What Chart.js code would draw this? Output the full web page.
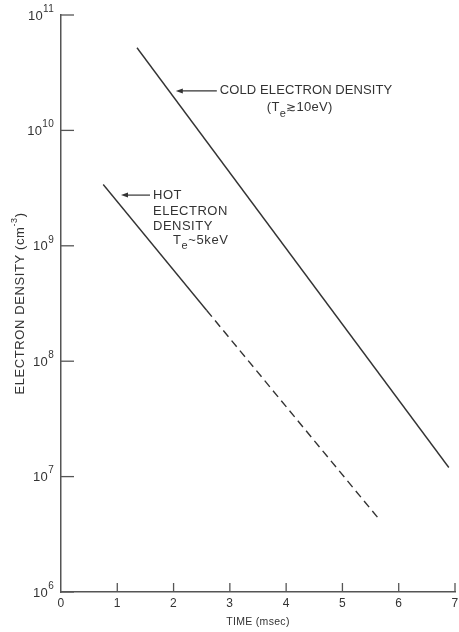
<!DOCTYPE html>
<html>
<head>
<meta charset="utf-8">
<script src="https://cdn.jsdelivr.net/npm/chart.js@4"></script>
<style>
  html, body { margin: 0; padding: 0; background: #fff; }
  #wrap { width: 459px; height: 632px; }
</style>
</head>
<body>
<div id="wrap"><canvas id="densityChart" width="459" height="632"></canvas></div>
<script>
// Electron density decay after turn-off (log scale)
const timeTicks = [0, 1, 2, 3, 4, 5, 6, 7];
const densityExps = [6, 7, 8, 9, 10, 11];

const coldTime = [1.35, 6.89];
const coldDensity = [5.2e10, 1.2e7];

const hotTime = [0.75, 2.59];
const hotDensity = [3.4e9, 2.75e8];
// extrapolated part of the hot curve (dashed)
const hotExtTime = [2.59, 5.63];
const hotExtDensity = [2.75e8, 4.4e6];

const INK = '#333';
const FONT = '"Liberation Sans", Arial, sans-serif';

function pts(xs, ys) {
  return xs.map((x, i) => ({ x: x, y: ys[i] }));
}

// draws a row of text pieces (size / vertical shift per piece)
function drawRuns(ctx, x, y, runs, align, spacing) {
  ctx.save();
  ctx.letterSpacing = (spacing === undefined ? 0.3 : spacing) + 'px';
  let total = 0;
  runs.forEach(r => {
    ctx.font = r.s + 'px ' + FONT;
    r.w = ctx.measureText(r.t).width;
    total += r.w;
  });
  let cx = x;
  if (align === 'right') cx = x - total;
  if (align === 'center') cx = x - total / 2;
  ctx.textAlign = 'left';
  ctx.textBaseline = 'middle';
  runs.forEach(r => {
    ctx.font = r.s + 'px ' + FONT;
    ctx.fillText(r.t, cx, y + (r.dy || 0));
    cx += r.w;
  });
  ctx.restore();
}

function arrow(ctx, x1, x2, y) {
  ctx.beginPath();
  ctx.moveTo(x2, y);
  ctx.lineTo(x1 + 5, y);
  ctx.stroke();
  ctx.beginPath();
  ctx.moveTo(x1, y);
  ctx.lineTo(x1 + 7, y - 2.5);
  ctx.lineTo(x1 + 7, y + 2.5);
  ctx.closePath();
  ctx.fill();
}

const axisDecor = {
  id: 'axisDecor',
  afterDraw(chart) {
    const ctx = chart.ctx;
    const xs = chart.scales.x, ys = chart.scales.y, ca = chart.chartArea;
    ctx.save();
    ctx.strokeStyle = '#555';
    ctx.fillStyle = INK;
    ctx.lineWidth = 1.3;

    // inward ticks + labels on the time axis
    timeTicks.forEach(t => {
      const px = xs.getPixelForValue(t);
      if (t > 0) {
        ctx.beginPath();
        ctx.moveTo(px, ca.bottom);
        ctx.lineTo(px, ca.bottom - 9);
        ctx.stroke();
      }
      drawRuns(ctx, px, ca.bottom + 12, [{ t: String(t), s: 12 }], 'center');
    });

    // decade ticks + 10^n labels on the density axis
    densityExps.forEach(e => {
      const py = ys.getPixelForValue(Math.pow(10, e));
      ctx.beginPath();
      ctx.moveTo(ca.left, py);
      ctx.lineTo(ca.left + 13, py);
      ctx.stroke();
      drawRuns(ctx, ca.left - 7, py, [
        { t: '10', s: 13, dy: 1 },
        { t: String(e), s: 10, dy: -6 }
      ], 'right');
    });

    // axis titles
    drawRuns(ctx, (ca.left + ca.right) / 2, ca.bottom + 30, [{ t: 'TIME (msec)', s: 10.5 }], 'center');
    ctx.save();
    ctx.translate(20, (ca.top + ca.bottom) / 2);
    ctx.rotate(-Math.PI / 2);
    drawRuns(ctx, 0, 0, [
      { t: 'ELECTRON DENSITY (cm', s: 13 },
      { t: '-3', s: 9, dy: -5 },
      { t: ')', s: 13 }
    ], 'center', 0.6);
    ctx.restore();

    // curve notes
    ctx.strokeStyle = INK;
    ctx.lineWidth = 1.2;
    const cy = ys.getPixelForValue(2.2e10);
    const cTip = xs.getPixelForValue(2.04);
    arrow(ctx, cTip, cTip + 41, cy);
    drawRuns(ctx, cTip + 44, cy, [{ t: 'COLD ELECTRON DENSITY', s: 13 }], 'left', 0.1);
    drawRuns(ctx, cTip + 91, cy + 17, [
      { t: '(T', s: 13 },
      { t: 'e', s: 11, dy: 6 },
      { t: '\u2273', s: 12 },
      { t: '10eV)', s: 13 }
    ], 'left');

    const hy = ys.getPixelForValue(2.75e9);
    const hTip = xs.getPixelForValue(1.066);
    arrow(ctx, hTip, hTip + 29, hy);
    drawRuns(ctx, hTip + 32, hy, [{ t: 'HOT', s: 13 }], 'left', 0.5);
    drawRuns(ctx, hTip + 32, hy + 16, [{ t: 'ELECTRON', s: 13 }], 'left', 0.5);
    drawRuns(ctx, hTip + 32, hy + 31, [{ t: 'DENSITY', s: 13 }], 'left', 0.5);
    drawRuns(ctx, hTip + 52, hy + 45, [
      { t: 'T', s: 13 },
      { t: 'e', s: 11, dy: 6 },
      { t: '~5keV', s: 13 }
    ], 'left', 0.6);
    ctx.restore();
  }
};

const lineStyle = {
  borderColor: INK,
  borderWidth: 1.4,
  pointRadius: 0,
  tension: 0,
  fill: false
};

const ctx = document.getElementById('densityChart').getContext('2d');
const densityChart = new Chart(ctx, {
  type: 'line',
  data: {
    datasets: [
      Object.assign({ label: 'Cold electron density', data: pts(coldTime, coldDensity) }, lineStyle),
      Object.assign({ label: 'Hot electron density', data: pts(hotTime, hotDensity) }, lineStyle),
      Object.assign({ label: 'Hot (extrapolated)', data: pts(hotExtTime, hotExtDensity), borderDash: [8, 5] }, lineStyle)
    ]
  },
  options: {
    responsive: false,
    animation: false,
    layout: { padding: { top: 15, right: 4, left: 0, bottom: 0 } },
    plugins: {
      legend: { display: false },
      tooltip: { enabled: false }
    },
    scales: {
      x: {
        type: 'linear',
        min: 0,
        max: 7,
        grid: { display: false },
        border: { display: true, color: '#555', width: 1.5 },
        ticks: { display: false },
        afterFit(scale) { scale.height = 40; }
      },
      y: {
        type: 'logarithmic',
        min: 1e6,
        max: 1e11,
        grid: { display: false },
        border: { display: true, color: '#555', width: 1.5 },
        ticks: { display: false },
        afterFit(scale) { scale.width = 61; }
      }
    }
  },
  plugins: [axisDecor]
});
</script>
</body>
</html>
